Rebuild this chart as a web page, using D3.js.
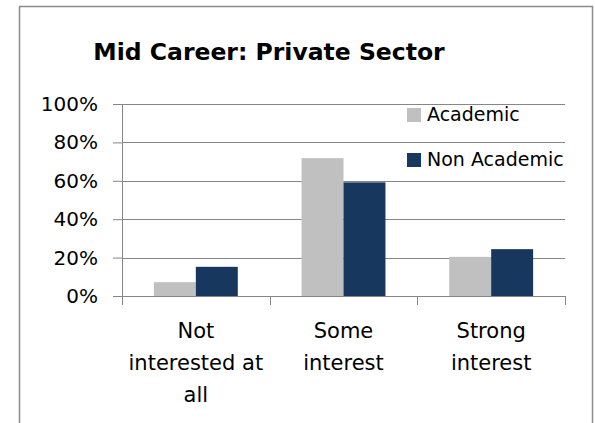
<!DOCTYPE html>
<html>
<head>
<meta charset="utf-8">
<script src="https://cdn.jsdelivr.net/npm/d3@7/dist/d3.min.js"></script>
<style>
  body { margin: 0; background: #fff; }
  svg text { font-family: "DejaVu Sans", sans-serif; fill: #000; }
</style>
</head>
<body>
<svg width="595" height="423"></svg>
<script>
// data
var categories = [["Not", "interested at", "all"], ["Some", "interest"], ["Strong", "interest"]];
var seriesNames = ["Academic", "Non Academic"];
var academic = [0.072, 0.718, 0.204];
var nonAcademic = [0.152, 0.592, 0.244];
var yTicks = [0, 0.2, 0.4, 0.6, 0.8, 1.0];
var colors = ["#c0c0c0", "#17375e"];

var svg = d3.select("svg");

// chart border
svg.append("rect")
  .attr("x", 19.5).attr("y", 6.5)
  .attr("width", 573).attr("height", 430)
  .attr("fill", "#fff").attr("stroke", "#8c8c8c").attr("stroke-width", 1.5);

// title
svg.append("text")
  .attr("x", 269).attr("y", 60)
  .attr("text-anchor", "middle")
  .attr("font-size", "23.5px")
  .attr("font-weight", "bold")
  .text("Mid Career: Private Sector");

var plotLeft = 122, plotRight = 565, plotTop = 104, plotBottom = 296;

var x0 = d3.scaleBand().domain(d3.range(categories.length)).range([plotLeft, plotRight]);
var x1 = d3.scaleBand().domain(d3.range(seriesNames.length)).range([0, x0.bandwidth()]).paddingInner(0).paddingOuter(0.76);
var y = d3.scaleLinear().domain([0, 1]).range([plotBottom, plotTop]);

// gridlines + y axis
var g = svg.append("g");
g.append("g")
  .attr("transform", "translate(" + plotLeft + ",0)")
  .call(d3.axisLeft(y).tickValues(yTicks).tickFormat(d3.format(".0%")).tickSize(9).tickPadding(15))
  .call(function(a) {
    a.select(".domain").attr("stroke", "#868686");
    a.selectAll(".tick line").attr("stroke", "#868686");
    a.selectAll(".tick text").attr("font-size", "20px").attr("font-family", "'DejaVu Sans', sans-serif").attr("fill", "#000");
  });
g.selectAll(".grid")
  .data(yTicks.filter(function(d){ return d > 0; }))
  .enter().append("line")
  .attr("x1", plotLeft).attr("x2", plotRight)
  .attr("y1", function(d){ return Math.round(y(d)) + 0.5; })
  .attr("y2", function(d){ return Math.round(y(d)) + 0.5; })
  .attr("stroke", "#868686");

// bars
var data = categories.map(function(c, i){ return [academic[i], nonAcademic[i]]; });
svg.selectAll(".cat")
  .data(data)
  .enter().append("g")
  .attr("transform", function(d, i){ return "translate(" + x0(i) + ",0)"; })
  .selectAll("rect")
  .data(function(d){ return d; })
  .enter().append("rect")
  .attr("x", function(d, j){ return x1(j); })
  .attr("width", x1.bandwidth())
  .attr("y", function(d){ return y(d); })
  .attr("height", function(d){ return plotBottom - y(d); })
  .attr("fill", function(d, j){ return colors[j]; });

// x axis line with ticks at category boundaries
svg.append("line")
  .attr("x1", plotLeft).attr("x2", plotRight)
  .attr("y1", plotBottom + 0.5).attr("y2", plotBottom + 0.5)
  .attr("stroke", "#868686");
var bounds = d3.range(categories.length).map(function(i){ return x0(i); }).concat([plotRight]);
svg.selectAll(".xtick")
  .data(bounds)
  .enter().append("line")
  .attr("x1", function(d){ return Math.round(d) + 0.5; })
  .attr("x2", function(d){ return Math.round(d) + 0.5; })
  .attr("y1", plotBottom).attr("y2", plotBottom + 9)
  .attr("stroke", "#868686");

// category labels
svg.selectAll(".xlabel")
  .data(categories)
  .enter().append("text")
  .attr("text-anchor", "middle")
  .attr("font-size", "21px")
  .attr("x", function(d, i){ return x0(i) + x0.bandwidth() / 2; })
  .attr("y", 338)
  .selectAll("tspan")
  .data(function(d){ return d; })
  .enter().append("tspan")
  .attr("x", function(){ return this.parentNode.getAttribute("x"); })
  .attr("dy", function(d, k){ return k === 0 ? 0 : 32; })
  .text(function(d){ return d; });

// legend
var legend = svg.selectAll(".legend")
  .data(seriesNames)
  .enter().append("g")
  .attr("transform", function(d, i){ return "translate(407," + (108 + i * 45) + ")"; });
legend.append("rect")
  .attr("width", 14).attr("height", 14)
  .attr("fill", function(d, i){ return colors[i]; });
legend.append("text")
  .attr("x", 20).attr("y", 13)
  .attr("font-size", "19px")
  .text(function(d){ return d; });
</script>
</body>
</html>
